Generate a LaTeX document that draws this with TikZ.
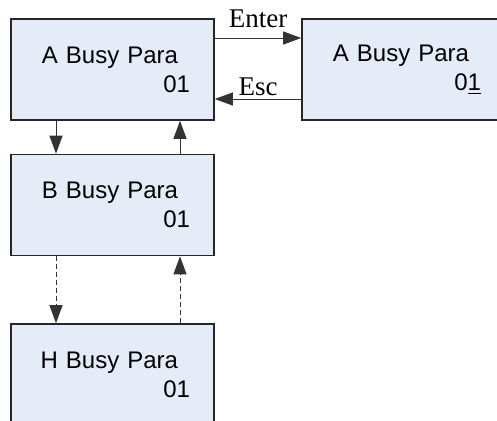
\documentclass[tikz,border=0pt]{standalone}
\usepackage{fontspec}
\setmainfont{Liberation Serif}
\setsansfont{Liberation Sans}
\usetikzlibrary{arrows.meta}
\definecolor{parafill}{RGB}{229,235,247}
\newcommand{\paragap}{\rule{6pt}{0pt}}
\tikzset{
    parabox/.style={draw=black!85, line width=0.8pt, fill=parafill,
        minimum width=101.5pt, minimum height=50.5pt,
        text width=77.5pt, inner xsep=12pt, align=right,
        font=\sffamily\fontsize{12}{14.5}\selectfont},
    link/.style={draw=black!80, line width=0.5pt,
        -{Triangle[length=9pt,width=6.5pt]}},
    keylabel/.style={font=\fontsize{13.5}{15}\selectfont, inner sep=0pt, anchor=base}
}

\begin{document}
\begin{tikzpicture}[x=0.5pt, y=0.5pt]
                        \useasboundingbox (0, 0) rectangle (497, -420);
                        \node[parabox] (na) at (112.5, -69.5) {A Busy Para\paragap\\01};
                        \node[parabox] (nr) at (403.5, -69.5) {A Busy Para\paragap\\0\underline{1}};
                        \node[parabox] (nb) at (112.5, -205) {B Busy Para\paragap\\01};
                        \node[parabox] (nh) at (112.5, -374.5) {H Busy Para\paragap\\01};

                        % Enter / Esc between the two A boxes
                        \draw[link] ([yshift=15.75pt]na.east) -- ([yshift=15.75pt]nr.west)
                            node[keylabel, midway, yshift=5.5pt] {Enter};
                        \draw[link] ([yshift=-14.75pt]nr.west) -- ([yshift=-14.75pt]na.east)
                            node[keylabel, midway, yshift=2pt] {Esc};

                        % down and up through the list
                        \draw[link] ([xshift=-28.25pt]na.south) -- ([xshift=-28.25pt]nb.north);
                        \draw[link] ([xshift=33.75pt]nb.north) -- ([xshift=33.75pt]na.south);
                        \draw[link, dash pattern=on 2.5pt off 1.5pt] ([xshift=-28.25pt]nb.south) -- ([xshift=-28.25pt]nh.north);
                        \draw[link, dash pattern=on 2.5pt off 1.5pt] ([xshift=33.75pt]nh.north) -- ([xshift=33.75pt]nb.south);
                    \end{tikzpicture}
\end{document}
